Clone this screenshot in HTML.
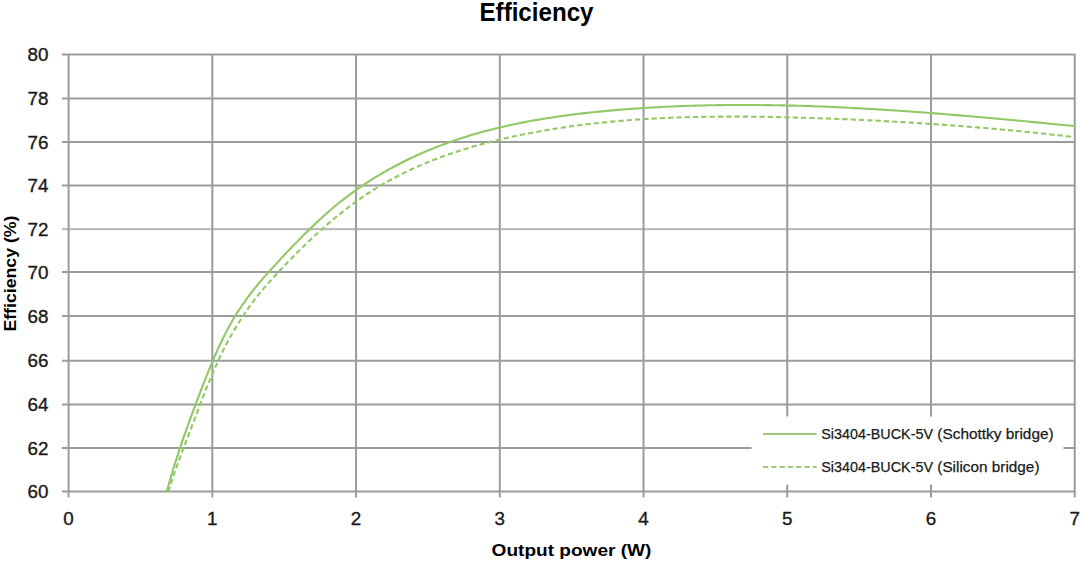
<!DOCTYPE html>
<html><head><meta charset="utf-8">
<style>
html,body{margin:0;padding:0;background:#fff;}
body{width:1080px;height:561px;overflow:hidden;}
svg{display:block;font-family:"Liberation Sans",sans-serif;}
</style></head>
<body>
<svg width="1080" height="561" viewBox="0 0 1080 561">
<rect width="1080" height="561" fill="#fff"/>
<g stroke="#9b9b9b" stroke-width="2" fill="none">
<path d="M62,54.5H1075.6 M62,98.4H1075.6 M62,142.0H1075.6 M62,185.6H1075.6 M62,272.0H1075.6 M62,316.0H1075.6 M62,360.75H1075.6 M62,404.4H1075.6 M62,448.0H1075.6 M62,491.55H1075.6"/>
<path d="M62,229.1H1075.6" stroke="#bcbcbc" stroke-width="2.4"/>
<path d="M68.60,54.5V497.5 M212.33,54.5V497.5 M356.06,54.5V497.5 M499.79,54.5V497.5 M643.52,54.5V497.5 M787.25,54.5V497.5 M930.98,54.5V497.5 M1074.71,54.5V497.5"/>
</g>
<g fill="none" stroke="#92c865" stroke-width="2.1" stroke-linejoin="round">
<path d="M168.42,491.83 L169.21,489.21 L170.00,486.60 L170.82,484.00 L171.65,481.40 L172.50,478.81 L173.36,476.23 L174.23,473.65 L175.12,471.08 L176.01,468.51 L176.92,465.95 L177.84,463.39 L178.77,460.84 L179.71,458.28 L180.65,455.73 L181.60,453.19 L182.56,450.64 L183.52,448.10 L184.49,445.56 L185.46,443.02 L186.43,440.48 L187.41,437.94 L188.38,435.40 L189.36,432.85 L190.34,430.31 L191.31,427.77 L192.29,425.22 L193.26,422.67 L194.23,420.12 L195.20,417.57 L196.16,415.01 L197.13,412.46 L198.10,409.90 L199.07,407.35 L200.04,404.79 L201.01,402.24 L201.99,399.68 L202.98,397.13 L203.97,394.58 L204.96,392.04 L205.96,389.49 L206.98,386.96 L207.99,384.42 L209.02,381.89 L210.06,379.36 L211.11,376.84 L212.18,374.33 L213.25,371.82 L214.34,369.31 L215.44,366.82 L216.56,364.33 L217.69,361.85 L218.84,359.38 L220.01,356.92 L221.19,354.46 L222.39,352.02 L223.61,349.59 L224.85,347.16 L226.10,344.75 L227.37,342.34 L228.66,339.95 L229.97,337.56 L231.30,335.19 L232.64,332.83 L234.01,330.48 L235.39,328.14 L236.79,325.82 L238.21,323.51 L239.65,321.21 L241.11,318.92 L242.59,316.64 L244.09,314.38 L245.61,312.14 L247.15,309.90 L248.71,307.69 L250.30,305.48 L251.90,303.29 L253.52,301.12 L255.16,298.96 L256.83,296.81 L258.51,294.68 L260.22,292.57 L261.95,290.48 L263.70,288.40 L265.47,286.33 L267.26,284.28 L269.07,282.24 L270.88,280.21 L272.72,278.20 L274.56,276.19 L276.41,274.19 L278.27,272.20 L280.13,270.21 L282.00,268.23 L283.87,266.25 L285.75,264.28 L287.64,262.32 L289.53,260.36 L291.43,258.41 L293.34,256.47 L295.25,254.53 L297.18,252.60 L299.11,250.67 L301.05,248.75 L303.00,246.84 L304.95,244.94 L306.92,243.04 L308.90,241.15 L310.88,239.27 L312.88,237.40 L314.88,235.54 L316.90,233.69 L318.92,231.85 L320.96,230.01 L323.00,228.19 L325.06,226.39 L327.12,224.59 L329.20,222.80 L331.28,221.03 L333.38,219.27 L335.48,217.52 L337.60,215.79 L339.72,214.07 L341.86,212.37 L344.01,210.68 L346.16,209.00 L348.33,207.34 L350.51,205.70 L352.70,204.07 L354.90,202.46 L357.12,200.87 L359.34,199.30 L361.57,197.74 L363.82,196.20 L366.08,194.68 L368.34,193.18 L370.62,191.70 L372.92,190.24 L375.22,188.80 L377.53,187.38 L379.86,185.98 L382.20,184.60 L384.54,183.24 L386.90,181.91 L389.27,180.58 L391.65,179.28 L394.04,178.00 L396.44,176.74 L398.85,175.50 L401.27,174.27 L403.70,173.07 L406.14,171.88 L408.59,170.71 L411.04,169.56 L413.51,168.42 L415.98,167.30 L418.47,166.20 L420.96,165.12 L423.46,164.06 L425.96,163.01 L428.48,161.98 L431.00,160.96 L433.53,159.97 L436.07,158.98 L438.62,158.02 L441.17,157.07 L443.73,156.13 L446.29,155.21 L448.87,154.31 L451.45,153.42 L454.03,152.55 L456.62,151.69 L459.22,150.85 L461.82,150.02 L464.43,149.20 L467.04,148.40 L469.66,147.61 L472.28,146.84 L474.91,146.08 L477.54,145.33 L480.17,144.60 L482.82,143.88 L485.46,143.17 L488.11,142.48 L490.76,141.79 L493.42,141.12 L496.08,140.47 L498.74,139.82 L501.40,139.19 L504.07,138.56 L506.74,137.95 L509.42,137.35 L512.09,136.76 L514.77,136.19 L517.45,135.62 L520.13,135.06 L522.81,134.52 L525.50,133.98 L528.18,133.46 L530.87,132.94 L533.56,132.43 L536.25,131.94 L538.94,131.45 L541.63,130.97 L544.32,130.51 L547.01,130.05 L549.71,129.60 L552.40,129.16 L555.10,128.73 L557.80,128.31 L560.49,127.89 L563.19,127.49 L565.89,127.09 L568.59,126.71 L571.29,126.33 L573.99,125.96 L576.69,125.60 L579.40,125.25 L582.10,124.90 L584.81,124.57 L587.51,124.24 L590.22,123.92 L592.92,123.61 L595.63,123.31 L598.34,123.01 L601.05,122.72 L603.76,122.44 L606.47,122.17 L609.18,121.91 L611.89,121.65 L614.60,121.40 L617.32,121.16 L620.03,120.92 L622.75,120.69 L625.46,120.47 L628.18,120.26 L630.89,120.05 L633.61,119.85 L636.32,119.66 L639.04,119.47 L641.76,119.29 L644.48,119.12 L647.20,118.95 L649.92,118.79 L652.64,118.64 L655.36,118.49 L658.08,118.35 L660.80,118.22 L663.52,118.09 L666.24,117.96 L668.97,117.85 L671.69,117.73 L674.41,117.63 L677.14,117.53 L679.86,117.43 L682.58,117.35 L685.31,117.26 L688.03,117.18 L690.76,117.11 L693.49,117.04 L696.21,116.98 L698.94,116.92 L701.66,116.87 L704.39,116.82 L707.12,116.78 L709.84,116.74 L712.57,116.71 L715.30,116.68 L718.03,116.66 L720.76,116.64 L723.48,116.62 L726.21,116.61 L728.94,116.60 L731.67,116.60 L734.40,116.60 L737.13,116.61 L739.86,116.62 L742.58,116.63 L745.31,116.65 L748.04,116.67 L750.77,116.69 L753.50,116.72 L756.23,116.75 L758.96,116.78 L761.69,116.82 L764.42,116.86 L767.15,116.91 L769.88,116.95 L772.60,117.00 L775.33,117.06 L778.06,117.11 L780.79,117.17 L783.52,117.23 L786.25,117.30 L788.98,117.36 L791.71,117.43 L794.43,117.50 L797.16,117.58 L799.89,117.65 L802.62,117.73 L805.35,117.81 L808.07,117.89 L810.80,117.98 L813.53,118.06 L816.26,118.15 L818.98,118.24 L821.71,118.33 L824.44,118.43 L827.16,118.53 L829.89,118.63 L832.61,118.73 L835.34,118.83 L838.06,118.94 L840.79,119.05 L843.52,119.16 L846.24,119.27 L848.97,119.38 L851.69,119.50 L854.42,119.62 L857.14,119.74 L859.86,119.87 L862.59,119.99 L865.31,120.12 L868.04,120.25 L870.76,120.39 L873.48,120.52 L876.21,120.66 L878.93,120.80 L881.65,120.94 L884.38,121.08 L887.10,121.23 L889.82,121.38 L892.54,121.53 L895.27,121.68 L897.99,121.84 L900.71,122.00 L903.43,122.16 L906.15,122.32 L908.87,122.49 L911.60,122.65 L914.32,122.82 L917.04,122.99 L919.76,123.17 L922.48,123.35 L925.20,123.52 L927.92,123.71 L930.64,123.89 L933.36,124.08 L936.08,124.26 L938.80,124.45 L941.52,124.65 L944.24,124.84 L946.96,125.04 L949.68,125.24 L952.40,125.44 L955.11,125.65 L957.83,125.86 L960.55,126.07 L963.27,126.28 L965.99,126.49 L968.71,126.71 L971.42,126.93 L974.14,127.15 L976.86,127.38 L979.58,127.60 L982.30,127.83 L985.01,128.06 L987.73,128.30 L990.45,128.54 L993.16,128.77 L995.88,129.02 L998.60,129.26 L1001.31,129.51 L1004.03,129.76 L1006.75,130.01 L1009.46,130.26 L1012.18,130.52 L1014.89,130.78 L1017.61,131.04 L1020.32,131.30 L1023.04,131.57 L1025.76,131.84 L1028.47,132.11 L1031.19,132.38 L1033.90,132.66 L1036.62,132.94 L1039.33,133.22 L1042.04,133.50 L1044.76,133.79 L1047.47,134.08 L1050.19,134.37 L1052.90,134.67 L1055.61,134.96 L1058.33,135.26 L1061.04,135.57 L1063.75,135.87 L1066.47,136.18 L1069.18,136.49 L1071.89,136.80 L1074.61,137.11" stroke-dasharray="5.2 3.1"/>
<path d="M166.80,491.53 L167.52,488.86 L168.25,486.20 L169.00,483.55 L169.75,480.90 L170.52,478.25 L171.29,475.61 L172.08,472.97 L172.87,470.33 L173.67,467.70 L174.49,465.07 L175.31,462.45 L176.14,459.82 L176.98,457.21 L177.83,454.59 L178.68,451.98 L179.55,449.37 L180.42,446.76 L181.30,444.16 L182.18,441.55 L183.08,438.95 L183.98,436.36 L184.89,433.76 L185.80,431.17 L186.72,428.58 L187.65,425.99 L188.58,423.40 L189.52,420.81 L190.46,418.22 L191.41,415.64 L192.36,413.06 L193.32,410.47 L194.29,407.89 L195.25,405.31 L196.23,402.73 L197.20,400.15 L198.18,397.57 L199.17,394.99 L200.16,392.41 L201.15,389.83 L202.14,387.25 L203.14,384.68 L204.14,382.10 L205.15,379.52 L206.17,376.95 L207.19,374.38 L208.22,371.81 L209.25,369.24 L210.30,366.68 L211.36,364.13 L212.43,361.58 L213.51,359.04 L214.60,356.50 L215.71,353.97 L216.83,351.45 L217.96,348.94 L219.11,346.44 L220.28,343.94 L221.46,341.46 L222.67,338.98 L223.89,336.52 L225.13,334.07 L226.39,331.63 L227.67,329.21 L228.97,326.80 L230.30,324.40 L231.65,322.02 L233.02,319.65 L234.42,317.30 L235.85,314.97 L237.30,312.65 L238.78,310.35 L240.28,308.06 L241.80,305.79 L243.35,303.54 L244.93,301.30 L246.53,299.08 L248.15,296.87 L249.79,294.68 L251.46,292.50 L253.14,290.34 L254.85,288.20 L256.58,286.07 L258.33,283.95 L260.10,281.85 L261.88,279.76 L263.68,277.68 L265.49,275.61 L267.32,273.55 L269.16,271.50 L271.01,269.46 L272.86,267.43 L274.73,265.40 L276.60,263.38 L278.47,261.36 L280.35,259.34 L282.23,257.33 L284.12,255.32 L286.00,253.32 L287.89,251.31 L289.79,249.32 L291.69,247.33 L293.59,245.34 L295.50,243.36 L297.42,241.39 L299.34,239.42 L301.27,237.47 L303.20,235.52 L305.14,233.57 L307.10,231.64 L309.06,229.72 L311.02,227.80 L313.00,225.90 L314.99,224.01 L316.99,222.13 L319.00,220.26 L321.02,218.40 L323.05,216.55 L325.09,214.72 L327.15,212.90 L329.22,211.10 L331.30,209.31 L333.40,207.53 L335.51,205.77 L337.64,204.03 L339.78,202.30 L341.94,200.59 L344.11,198.89 L346.29,197.21 L348.50,195.55 L350.71,193.91 L352.94,192.28 L355.19,190.68 L357.45,189.08 L359.72,187.51 L362.01,185.95 L364.30,184.41 L366.61,182.89 L368.94,181.38 L371.27,179.90 L373.62,178.43 L375.97,176.98 L378.34,175.54 L380.72,174.13 L383.11,172.73 L385.51,171.35 L387.92,169.99 L390.34,168.64 L392.77,167.32 L395.20,166.01 L397.65,164.72 L400.10,163.45 L402.57,162.20 L405.04,160.96 L407.51,159.75 L410.00,158.55 L412.49,157.37 L414.99,156.22 L417.49,155.07 L420.00,153.95 L422.52,152.85 L425.05,151.76 L427.58,150.69 L430.12,149.64 L432.66,148.61 L435.21,147.59 L437.76,146.59 L440.32,145.61 L442.89,144.64 L445.46,143.69 L448.04,142.76 L450.63,141.85 L453.22,140.94 L455.81,140.06 L458.41,139.19 L461.02,138.34 L463.63,137.50 L466.24,136.68 L468.86,135.87 L471.49,135.08 L474.12,134.30 L476.75,133.54 L479.39,132.79 L482.04,132.05 L484.69,131.33 L487.34,130.63 L490.00,129.94 L492.66,129.26 L495.32,128.59 L497.99,127.94 L500.66,127.30 L503.34,126.67 L506.02,126.06 L508.70,125.46 L511.39,124.87 L514.08,124.30 L516.78,123.73 L519.47,123.18 L522.18,122.64 L524.88,122.11 L527.59,121.59 L530.30,121.09 L533.01,120.59 L535.72,120.11 L538.44,119.64 L541.16,119.18 L543.89,118.72 L546.61,118.28 L549.34,117.85 L552.07,117.43 L554.80,117.02 L557.53,116.62 L560.27,116.23 L563.01,115.84 L565.75,115.47 L568.49,115.10 L571.23,114.75 L573.98,114.40 L576.72,114.06 L579.47,113.73 L582.22,113.41 L584.97,113.10 L587.72,112.79 L590.47,112.49 L593.22,112.20 L595.97,111.92 L598.73,111.64 L601.48,111.37 L604.24,111.11 L606.99,110.85 L609.75,110.60 L612.51,110.36 L615.26,110.12 L618.02,109.89 L620.77,109.67 L623.53,109.45 L626.29,109.23 L629.04,109.02 L631.80,108.82 L634.56,108.63 L637.31,108.43 L640.07,108.25 L642.82,108.07 L645.58,107.89 L648.34,107.72 L651.09,107.56 L653.85,107.40 L656.60,107.25 L659.36,107.10 L662.11,106.96 L664.87,106.82 L667.62,106.69 L670.38,106.56 L673.13,106.44 L675.89,106.32 L678.65,106.21 L681.40,106.11 L684.16,106.00 L686.91,105.91 L689.67,105.82 L692.42,105.73 L695.17,105.65 L697.93,105.57 L700.68,105.50 L703.44,105.43 L706.19,105.37 L708.95,105.31 L711.70,105.25 L714.46,105.21 L717.21,105.16 L719.96,105.12 L722.72,105.09 L725.47,105.06 L728.23,105.03 L730.98,105.01 L733.73,104.99 L736.49,104.98 L739.24,104.97 L742.00,104.97 L744.75,104.97 L747.50,104.97 L750.26,104.98 L753.01,104.99 L755.76,105.01 L758.52,105.03 L761.27,105.05 L764.02,105.08 L766.77,105.11 L769.53,105.15 L772.28,105.19 L775.03,105.24 L777.79,105.29 L780.54,105.34 L783.29,105.39 L786.04,105.45 L788.80,105.52 L791.55,105.58 L794.30,105.66 L797.05,105.73 L799.81,105.81 L802.56,105.89 L805.31,105.98 L808.06,106.06 L810.81,106.16 L813.57,106.25 L816.32,106.35 L819.07,106.45 L821.82,106.56 L824.57,106.67 L827.32,106.78 L830.08,106.90 L832.83,107.02 L835.58,107.14 L838.33,107.26 L841.08,107.39 L843.83,107.52 L846.58,107.66 L849.33,107.80 L852.09,107.94 L854.84,108.08 L857.59,108.23 L860.34,108.37 L863.09,108.53 L865.84,108.68 L868.59,108.84 L871.34,109.00 L874.09,109.16 L876.84,109.33 L879.59,109.50 L882.34,109.67 L885.09,109.84 L887.84,110.02 L890.59,110.19 L893.34,110.38 L896.09,110.56 L898.84,110.74 L901.59,110.93 L904.34,111.12 L907.09,111.32 L909.84,111.51 L912.59,111.71 L915.34,111.91 L918.09,112.11 L920.83,112.31 L923.58,112.52 L926.33,112.73 L929.08,112.94 L931.83,113.15 L934.58,113.36 L937.33,113.58 L940.08,113.80 L942.82,114.02 L945.57,114.24 L948.32,114.46 L951.07,114.69 L953.82,114.91 L956.57,115.14 L959.31,115.37 L962.06,115.60 L964.81,115.84 L967.56,116.07 L970.31,116.31 L973.05,116.55 L975.80,116.78 L978.55,117.03 L981.30,117.27 L984.04,117.51 L986.79,117.76 L989.54,118.00 L992.29,118.25 L995.03,118.50 L997.78,118.75 L1000.53,119.00 L1003.27,119.25 L1006.02,119.51 L1008.77,119.76 L1011.51,120.02 L1014.26,120.27 L1017.01,120.53 L1019.75,120.79 L1022.50,121.05 L1025.25,121.31 L1027.99,121.57 L1030.74,121.83 L1033.48,122.09 L1036.23,122.36 L1038.98,122.62 L1041.72,122.89 L1044.47,123.15 L1047.21,123.42 L1049.96,123.68 L1052.70,123.95 L1055.45,124.22 L1058.19,124.49 L1060.94,124.75 L1063.68,125.02 L1066.43,125.29 L1069.17,125.56 L1071.92,125.83 L1074.66,126.10" stroke-linecap="round"/>
</g>
<rect x="751.5" y="416.5" width="312" height="68" fill="#fff"/>
<g stroke="#9cc878" stroke-width="2.2">
<path d="M763,434H816.7"/>
<path d="M763,467H816.7" stroke-dasharray="5.2 3.1"/>
</g>
<g fill="#1a1a1a" stroke="#1a1a1a" stroke-width="0.25" font-size="15.3">
<text x="821.3" y="438.8" textLength="111.7" lengthAdjust="spacingAndGlyphs">Si3404-BUCK-5V</text>
<text x="937.3" y="438.8" textLength="116.4" lengthAdjust="spacingAndGlyphs">(Schottky bridge)</text>
<text x="821.3" y="471.8" textLength="111.7" lengthAdjust="spacingAndGlyphs">Si3404-BUCK-5V</text>
<text x="937.3" y="471.8" textLength="102.2" lengthAdjust="spacingAndGlyphs">(Silicon bridge)</text>
</g>
<g fill="#1a1a1a" stroke="#1a1a1a" stroke-width="0.35" font-size="18.8" text-anchor="end">
<text x="48.5" y="61.10">80</text>
<text x="48.5" y="105.00">78</text>
<text x="48.5" y="148.60">76</text>
<text x="48.5" y="192.20">74</text>
<text x="48.5" y="235.70">72</text>
<text x="48.5" y="278.60">70</text>
<text x="48.5" y="322.60">68</text>
<text x="48.5" y="367.35">66</text>
<text x="48.5" y="411.00">64</text>
<text x="48.5" y="454.60">62</text>
<text x="48.5" y="498.15">60</text>
</g>
<g fill="#1a1a1a" stroke="#1a1a1a" stroke-width="0.35" font-size="18.8" text-anchor="middle">
<text x="68.60" y="524.6">0</text>
<text x="212.33" y="524.6">1</text>
<text x="356.06" y="524.6">2</text>
<text x="499.79" y="524.6">3</text>
<text x="643.52" y="524.6">4</text>
<text x="787.25" y="524.6">5</text>
<text x="930.98" y="524.6">6</text>
<text x="1074.71" y="524.6">7</text>
</g>
<text x="536.5" y="20.7" font-size="25.5" font-weight="bold" fill="#000" text-anchor="middle" textLength="114" lengthAdjust="spacingAndGlyphs">Efficiency</text>
<text x="571.5" y="556.3" font-size="17.3" font-weight="bold" fill="#000" text-anchor="middle" textLength="159.8" lengthAdjust="spacingAndGlyphs">Output power (W)</text>
<text transform="translate(15.5,273.6) rotate(-90)" x="0" y="0" font-size="16.8" font-weight="bold" fill="#000" text-anchor="middle" textLength="116" lengthAdjust="spacingAndGlyphs">Efficiency (%)</text>
</svg>
</body></html>
